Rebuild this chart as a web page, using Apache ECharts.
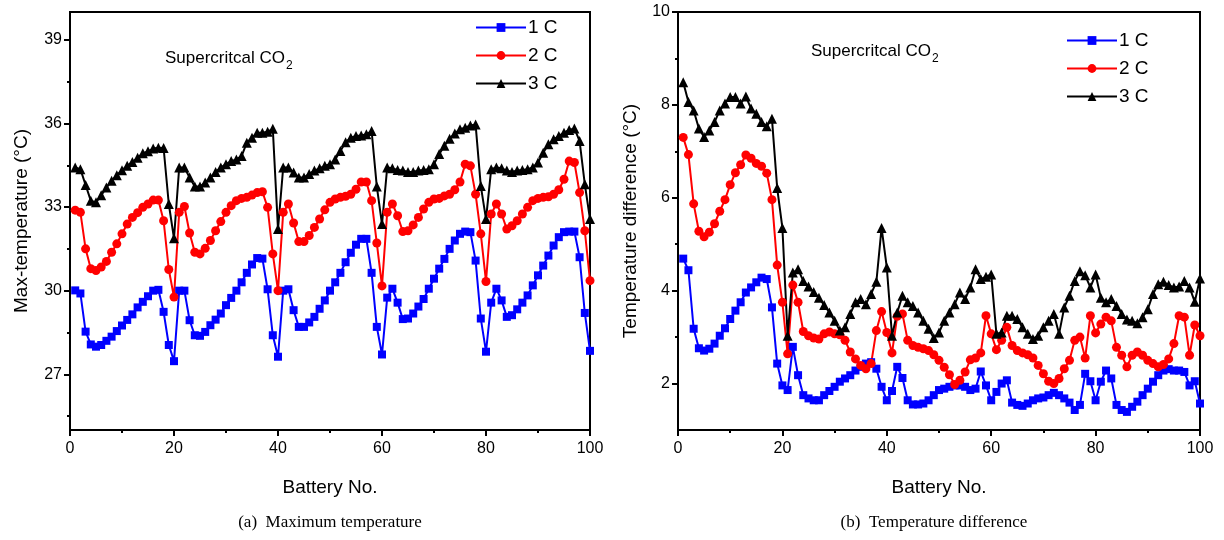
<!DOCTYPE html>
<html>
<head>
<meta charset="utf-8">
<script src="https://cdn.jsdelivr.net/npm/echarts@6/dist/echarts.min.js"></script>
<style>
html,body{margin:0;padding:0;background:#fff;}
#chart{width:1224px;height:540px;}
</style>
</head>
<body>
<div id="chart"></div>
<script>
// ---------- data ----------
const batteryNo = Array.from({length: 100}, (_, i) => i + 1);
const seriesNames = ['1 C', '2 C', '3 C'];

// (a) Maximum temperature (°C)
const maxT_1C = [
  30.01,29.9,28.53,28.07,27.99,28.05,28.2,28.35,28.55,28.75,28.95,29.15,29.4,29.6,29.8,30.0,30.03,29.24,28.05,27.47,
  30.0,30.0,28.94,28.4,28.38,28.52,28.76,28.96,29.18,29.48,29.74,30.0,30.3,30.64,30.94,31.17,31.15,30.05,28.4,27.63,
  30.0,30.05,29.3,28.7,28.7,28.86,29.06,29.35,29.65,30.0,30.3,30.64,31.02,31.36,31.65,31.86,31.86,30.64,28.7,27.71,
  29.75,30.07,29.57,28.98,29.0,29.18,29.43,29.7,30.07,30.43,30.79,31.14,31.5,31.8,32.04,32.12,32.1,31.08,29.0,27.81,
  29.57,30.07,29.65,29.06,29.12,29.33,29.57,29.83,30.19,30.55,30.9,31.26,31.62,31.92,32.1,32.12,32.12,31.2,29.2,27.84
];
const maxT_2C = [
  32.89,32.81,31.5,30.79,30.72,30.85,31.05,31.38,31.68,32.04,32.39,32.63,32.8,32.99,33.11,33.25,33.25,32.51,30.76,29.77,
  32.81,33.02,32.07,31.38,31.32,31.52,31.8,32.15,32.48,32.81,33.05,33.23,33.31,33.35,33.43,33.52,33.55,32.99,31.32,30.0,
  32.81,33.11,32.43,31.76,31.76,31.98,32.27,32.57,32.9,33.17,33.29,33.35,33.39,33.46,33.64,33.9,33.9,33.23,31.71,30.17,
  32.81,33.11,32.69,32.12,32.15,32.36,32.63,32.93,33.17,33.29,33.31,33.4,33.46,33.62,33.9,34.54,34.48,33.46,32.04,30.33,
  32.75,33.11,32.75,32.21,32.33,32.51,32.75,32.99,33.23,33.31,33.35,33.37,33.46,33.62,34.0,34.65,34.6,33.52,32.15,30.36
];
const maxT_3C = [
  34.42,34.36,33.79,33.23,33.17,33.42,33.7,33.94,34.14,34.32,34.48,34.62,34.77,34.93,35.0,35.1,35.13,35.12,33.11,31.88,
  34.42,34.42,34.06,33.74,33.74,33.88,34.06,34.26,34.42,34.54,34.65,34.71,34.83,35.31,35.49,35.67,35.67,35.7,35.81,32.21,
  34.42,34.42,34.24,34.06,34.06,34.19,34.31,34.39,34.48,34.54,34.71,35.01,35.33,35.49,35.55,35.57,35.61,35.73,33.74,32.39,
  34.42,34.39,34.33,34.31,34.26,34.26,34.31,34.33,34.36,34.54,34.9,35.2,35.45,35.64,35.79,35.85,35.93,35.96,33.76,32.57,
  34.36,34.42,34.39,34.31,34.26,34.31,34.33,34.36,34.42,34.6,34.95,35.25,35.43,35.55,35.67,35.77,35.82,35.37,33.82,32.57
];

// (b) Temperature difference (°C)
const dT_1C = [
  4.69,4.44,3.18,2.76,2.71,2.75,2.86,3.03,3.19,3.39,3.57,3.75,3.96,4.07,4.18,4.28,4.25,3.64,2.43,1.96,
  1.86,2.79,2.18,1.75,1.68,1.64,1.64,1.75,1.84,1.93,2.04,2.11,2.18,2.28,2.36,2.43,2.46,2.32,1.93,1.64,
  1.84,2.36,2.12,1.64,1.55,1.55,1.57,1.64,1.75,1.86,1.89,1.93,1.96,1.96,1.93,1.86,1.89,2.26,1.96,1.64,
  1.82,2.0,2.07,1.59,1.54,1.52,1.57,1.64,1.68,1.7,1.75,1.8,1.75,1.68,1.59,1.43,1.54,2.21,2.05,1.64,
  2.04,2.28,2.11,1.54,1.43,1.39,1.5,1.61,1.75,1.89,2.04,2.18,2.28,2.31,2.28,2.28,2.25,1.96,2.05,1.57
];
const dT_2C = [
  7.3,6.93,5.87,5.28,5.16,5.26,5.44,5.71,5.96,6.28,6.54,6.71,6.92,6.85,6.74,6.68,6.53,5.96,4.55,3.75,
  2.64,4.12,3.75,3.12,3.03,2.98,2.96,3.07,3.11,3.07,3.05,2.93,2.68,2.53,2.39,2.32,2.43,3.14,3.55,3.1,
  2.66,3.45,3.5,2.93,2.82,2.78,2.75,2.71,2.62,2.5,2.35,2.19,1.98,2.07,2.25,2.51,2.55,2.66,3.46,3.07,
  2.73,2.93,3.21,2.82,2.71,2.66,2.62,2.55,2.39,2.21,2.05,2.0,2.11,2.32,2.5,2.93,3.0,2.55,3.46,3.09,
  3.28,3.43,3.35,2.78,2.61,2.36,2.61,2.68,2.61,2.5,2.43,2.36,2.41,2.53,2.86,3.46,3.43,2.61,3.26,3.03
];
const dT_3C = [
  8.49,8.06,7.88,7.49,7.31,7.45,7.63,7.88,8.03,8.17,8.17,8.03,8.18,7.92,7.81,7.63,7.54,7.7,6.21,5.35,
  3.03,4.39,4.46,4.21,4.09,3.97,3.85,3.69,3.53,3.35,3.14,3.21,3.5,3.75,3.82,3.71,3.93,4.19,5.35,4.5,
  3.03,3.53,3.89,3.75,3.67,3.53,3.35,3.18,2.98,3.1,3.35,3.53,3.71,3.96,3.82,4.07,4.46,4.25,4.3,4.35,
  3.07,3.1,3.46,3.46,3.39,3.21,3.07,2.96,3.03,3.21,3.35,3.5,3.07,3.64,3.89,4.21,4.42,4.33,4.07,4.35,
  3.85,3.75,3.82,3.67,3.5,3.38,3.35,3.3,3.43,3.6,3.93,4.14,4.19,4.12,4.07,4.09,4.21,4.07,3.76,4.26
];

// tick labels
const xTicks = [0, 20, 40, 60, 80, 100];
const leftYTicks = [27, 30, 33, 36, 39];
const leftYMinor = [25.5, 28.5, 31.5, 34.5, 37.5];
const rightYTicks = [2, 4, 6, 8, 10];
const rightYMinor = [3, 5, 7, 9];

// ---------- chart ----------
const FONT = "'Liberation Sans', Arial, sans-serif";
const SERIF = "'Liberation Serif', 'Times New Roman', serif";
const colors = ['#0000ff', '#ff0000', '#000000'];
const symbols = ['rect', 'circle', 'triangle'];
const symbolSizes = [8, 9, 10];

function pairs(vals) { return batteryNo.map((n, i) => [n, vals[i]]); }

function xAxisDef(gridIndex) {
  return {
    type: 'value', gridIndex, min: 0, max: 100, interval: 20,
    name: 'Battery No.', nameLocation: 'middle', nameGap: 48,
    nameTextStyle: {fontFamily: FONT, fontSize: 19, color: '#000'},
    axisLine: {show: true, onZero: false, lineStyle: {color: '#000', width: 2}},
    axisTick: {show: true, inside: false, length: 6, lineStyle: {color: '#000', width: 2}},
    minorTick: {show: true, splitNumber: 2, length: 3, lineStyle: {color: '#000', width: 2}},
    axisLabel: {fontFamily: FONT, fontSize: 16, color: '#000', margin: 11},
    splitLine: {show: false}, minorSplitLine: {show: false}
  };
}
function yAxisMain(gridIndex, min, max, ticks, name, gap) {
  return {
    type: 'value', gridIndex, min, max, position: 'left',
    name, nameLocation: 'middle', nameGap: gap,
    nameTextStyle: {fontFamily: FONT, fontSize: 19, color: '#000'},
    axisLine: {show: true, onZero: false, lineStyle: {color: '#000', width: 2}},
    axisTick: {show: true, inside: false, length: 6, customValues: ticks, lineStyle: {color: '#000', width: 2}},
    axisLabel: {fontFamily: FONT, fontSize: 16, color: '#000', margin: 8, customValues: ticks},
    splitLine: {show: false}
  };
}
function yAxisMinor(gridIndex, min, max, ticks) {
  return {
    type: 'value', gridIndex, min, max, position: 'left', offset: 0,
    axisLine: {show: false},
    axisTick: {show: true, inside: false, length: 3, customValues: ticks, lineStyle: {color: '#000', width: 2}},
    axisLabel: {show: false, customValues: ticks},
    splitLine: {show: false}
  };
}

const series = [];
[[maxT_1C, maxT_2C, maxT_3C], [dT_1C, dT_2C, dT_3C]].forEach((group, g) => {
  group.forEach((vals, k) => {
    series.push({
      type: 'line', name: seriesNames[k],
      xAxisIndex: g, yAxisIndex: g * 2,
      data: pairs(vals),
      symbol: symbols[k], symbolSize: symbolSizes[k],
      showAllSymbol: true,
      lineStyle: {color: colors[k], width: 2},
      itemStyle: {color: colors[k]},
      emphasis: {disabled: true},
      animation: false
    });
  });
});

function legendDef(left, top) {
  return {
    left, top, orient: 'vertical', itemWidth: 50, itemHeight: 11, itemGap: 9,
    data: seriesNames,
    textStyle: {fontFamily: FONT, fontSize: 19, color: '#000', padding: [0, 0, 0, -3]},
    selectedMode: false
  };
}

function subText(x, y) {
  return {
    type: 'text', left: x, top: y,
    style: {
      text: '{a|Supercritcal CO}{b|2}',
      rich: {
        a: {fontFamily: FONT, fontSize: 17, fill: '#000', lineHeight: 22, verticalAlign: 'bottom'},
        b: {fontFamily: FONT, fontSize: 12, fill: '#000', lineHeight: 22, verticalAlign: 'bottom', padding: [0, 0, -5, 1]}
      }
    }
  };
}

const chart = echarts.init(document.getElementById('chart'), null, {renderer: 'canvas'});
chart.setOption({
  animation: false,
  backgroundColor: '#fff',
  grid: [
    {left: 70, top: 12, width: 520, height: 418, show: true, borderColor: '#000', borderWidth: 2, backgroundColor: 'transparent'},
    {left: 678, top: 12, width: 522, height: 418, show: true, borderColor: '#000', borderWidth: 2, backgroundColor: 'transparent'}
  ],
  xAxis: [xAxisDef(0), xAxisDef(1)],
  yAxis: [
    yAxisMain(0, 25, 40, leftYTicks, 'Max-temperature (°C)', 39),
    yAxisMinor(0, 25, 40, leftYMinor),
    yAxisMain(1, 1, 10, rightYTicks, 'Temperature difference (°C)', 38),
    yAxisMinor(1, 1, 10, rightYMinor)
  ],
  legend: [legendDef(470, 13), legendDef(1061, 26)],
  series,
  graphic: [
    subText(165, 50),
    subText(811, 43),
    {type: 'text', x: 330, y: 523, style: {text: '(a)  Maximum temperature', fontFamily: SERIF, fontSize: 17, fill: '#000', textAlign: 'center', textVerticalAlign: 'middle'}},
    {type: 'text', x: 934, y: 523, style: {text: '(b)  Temperature difference', fontFamily: SERIF, fontSize: 17, fill: '#000', textAlign: 'center', textVerticalAlign: 'middle'}}
  ]
});
</script>
</body>
</html>
